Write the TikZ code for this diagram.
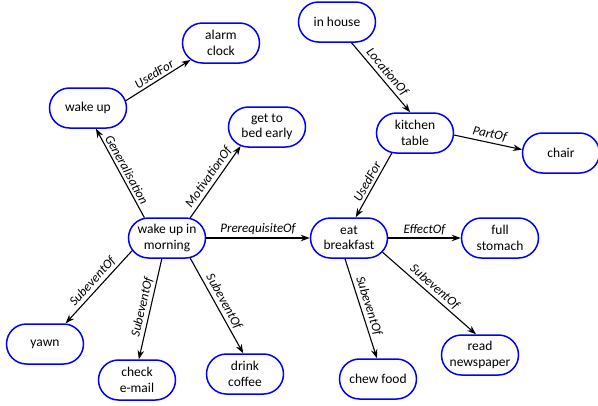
\documentclass[tikz,border=0pt]{standalone}
\usepackage{fontspec}
\setmainfont{Carlito}
\usetikzlibrary{shapes.misc,arrows.meta}
\begin{document}
\begin{tikzpicture}[x=1pt,y=-1pt,
  concept/.style={rounded rectangle, draw=blue, line width=1.5pt,
    minimum width=81pt, minimum height=40pt, inner sep=2pt, align=center,
    font=\fontsize{13.5}{15.5}\selectfont},
  rel/.style={line width=1.1pt, -{Stealth[length=9pt,width=6.5pt]}},
  lbl/.style={midway, sloped, above, inner sep=2.5pt,
    font=\fontsize{13}{15}\selectfont\itshape}]
\useasboundingbox (0,0) rectangle (598,405);
\clip (0,0) rectangle (598,405);

% concepts
\node[concept] (ac)  at (221,43)  {alarm\\clock};
\node[concept] (wu)  at (88,108)  {wake up};
\node[concept] (gb)  at (267,127) {get to\\bed early};
\node[concept] (ih)  at (337,22)  {in house};
\node[concept] (kt)  at (415,133) {kitchen\\table};
\node[concept] (ch)  at (561,153) {chair};
\node[concept] (wum) at (167,238) {wake up in\\morning};
\node[concept] (eb)  at (349,238) {eat\\breakfast};
\node[concept] (fs)  at (500,238) {full\\stomach};
\node[concept] (yw)  at (45,344)  {yawn};
\node[concept] (ce)  at (137,380) {check\\e-mail};
\node[concept] (dc)  at (245,374) {drink\\coffee};
\node[concept] (cf)  at (378,379) {chew food};
\node[concept] (rn)  at (480,355) {read\\newspaper};

% relations
\draw[rel] (wu.11)   -- (ac.209) node[lbl] {UsedFor};
\draw[rel] (wum.138) -- (wu.291) node[lbl] {Generalisation};
\draw[rel] (wum.41)  -- (gb.216) node[lbl] {MotivationOf};
\draw[rel] (wum.east) -- (eb.west) node[lbl] {PrerequisiteOf};
\draw[rel] (ih.305)  -- (kt.103) node[lbl] {LocationOf};
\draw[rel] (kt.357)  -- (ch.175) node[lbl] {PartOf};
\draw[rel] (kt.221)  -- (eb.72)  node[lbl] {UsedFor};
\draw[rel] (eb.east) -- (fs.west) node[lbl] {EffectOf};
\draw[rel] (eb.259)  -- (cf.93)  node[lbl] {SubeventOf};
\draw[rel] (eb.337)  -- (rn.101) node[lbl] {SubeventOf};
\draw[rel] (wum.200) -- (yw.45)  node[lbl] {SubeventOf};
\draw[rel] (wum.256) -- (ce.85)  node[lbl] {SubeventOf};
\draw[rel] (wum.319) -- (dc.95)  node[lbl] {SubeventOf};
\end{tikzpicture}
\end{document}
